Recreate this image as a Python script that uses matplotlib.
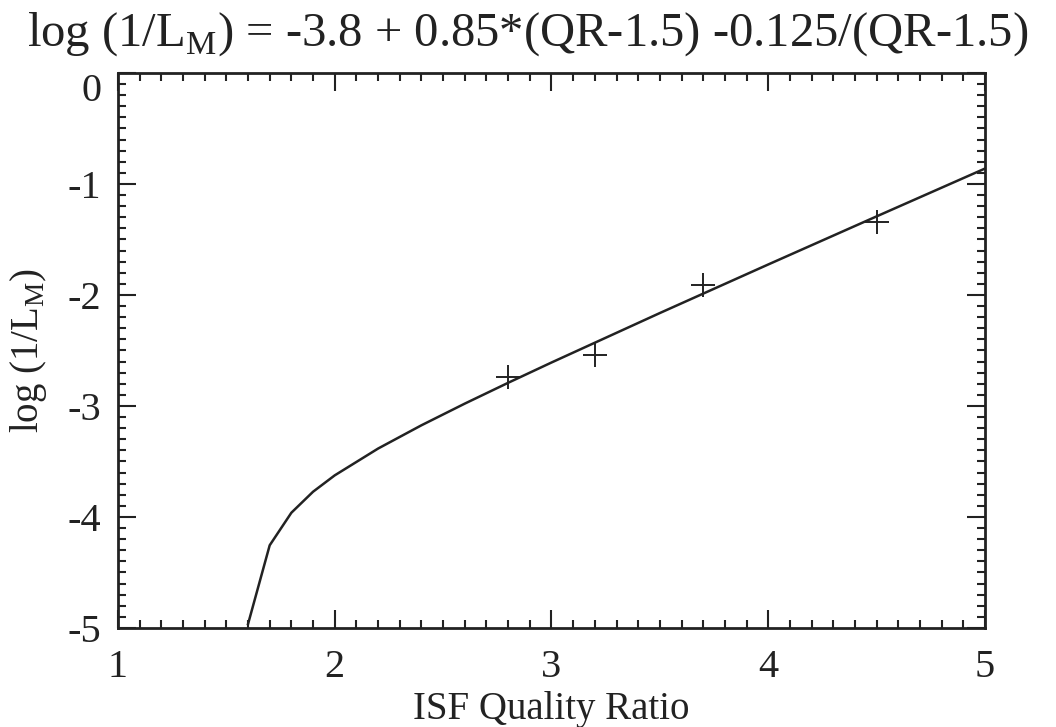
import numpy as np
import matplotlib
matplotlib.use("Agg")
import matplotlib.pyplot as plt
from matplotlib.ticker import MultipleLocator

plt.rcParams["font.family"] = ["Liberation Serif", "DejaVu Serif"]
plt.rcParams["mathtext.fontset"] = "custom"
plt.rcParams["mathtext.rm"] = "Liberation Serif"
plt.rcParams["axes.unicode_minus"] = False

# Model coefficients: log(1/L_M) = a + b*(QR-c) - d/(QR-c)
a_coef = -3.8
b_coef = 0.85
c_shift = 1.5
d_coef = 0.125

# Curve sampled on the quality-ratio grid
qr_curve = [1.6, 1.7, 1.8, 1.9, 2.0, 2.2, 2.4, 2.6, 2.8, 3.0, 3.5, 4.0, 4.5, 5.0]

# Measured points
qr_obs = [2.8, 3.2, 3.7, 4.5]
loglm_obs = [-2.74, -2.54, -1.91, -1.34]

qr = np.array(qr_curve)
fit = a_coef + b_coef * (qr - c_shift) - d_coef / (qr - c_shift)

ink = "#222222"

fig = plt.figure(figsize=(10.56, 7.27), dpi=100)
ax = fig.add_axes([0.1117, 0.1362, 0.8211, 0.7634])

ax.plot(qr, fit, color=ink, lw=1.8)
ax.plot(qr_obs, loglm_obs, linestyle="none", marker="+", markersize=17,
        markeredgewidth=1.4, color=ink)

ax.set_xlim(1, 5)
ax.set_ylim(-5, 0)
ax.xaxis.set_major_locator(MultipleLocator(1))
ax.xaxis.set_minor_locator(MultipleLocator(0.1))
ax.yaxis.set_major_locator(MultipleLocator(1))
ax.yaxis.set_minor_locator(MultipleLocator(0.1))

ax.tick_params(which="both", direction="in", top=True, right=True,
               color=ink, labelsize=29, labelcolor=ink)
ax.tick_params(which="major", length=13, width=1.5)
ax.tick_params(which="minor", length=6, width=1.5)
ax.tick_params(axis="x", which="major", pad=15)
ax.tick_params(axis="y", which="major", pad=12)
for s in ax.spines.values():
    s.set_linewidth(2.0)
    s.set_color(ink)

ax.set_xlabel("ISF Quality Ratio", fontsize=28, color=ink, labelpad=4)
ax.set_ylabel(r"log (1/L$_\mathregular{M}$)", fontsize=28, color=ink, labelpad=13)
fig.text(0.5, 0.953, r"log (1/L$_\mathregular{M}$) = -3.8 + 0.85*(QR-1.5) -0.125/(QR-1.5)",
         ha="center", va="center", fontsize=35, color=ink)

# Hang the top y label below its tick so it clears the title
fig.canvas.draw()
for lab in ax.get_yticklabels():
    if lab.get_text() == "0":
        lab.set_va("top")

fig.savefig("out.png", dpi=100)
